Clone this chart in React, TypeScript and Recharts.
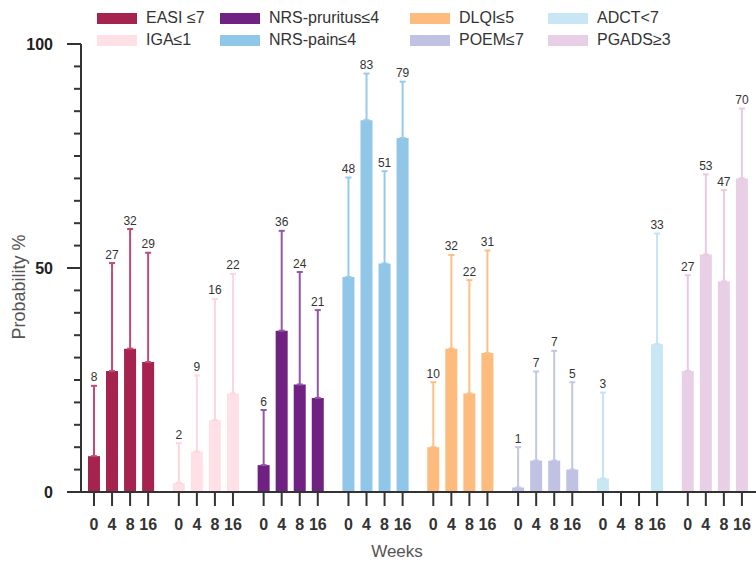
import React from 'react';
import { ComposedChart, Bar, Cell, XAxis, YAxis, Scatter, ErrorBar, LabelList, Legend } from 'recharts';

// ---- data ----
const groups = ['EASI ≤7', 'IGA≤1', 'NRS-pruritus≤4', 'NRS-pain≤4', 'DLQI≤5', 'POEM≤7', 'ADCT<7', 'PGADS≥3'];
const weeks = ['0', '4', '8', '16'];

const easi = [8, 27, 32, 29];
const easiUpper = [23.7, 51.1, 58.7, 53.4];
const iga = [2, 9, 16, 22];
const igaUpper = [10.9, 26, 43.1, 48.7];
const nrsPruritus = [6, 36, 24, 21];
const nrsPruritusUpper = [18.3, 58.3, 49.1, 40.6];
const nrsPain = [48, 83, 51, 79];
const nrsPainUpper = [70.2, 93.4, 71.6, 91.6];
const dlqi = [10, 32, 22, 31];
const dlqiUpper = [24.5, 52.9, 47.3, 53.9];
const poem = [1, 7, 7, 5];
const poemUpper = [10, 26.9, 31.5, 24.5];
const adct = [3, null, null, 33];
const adctUpper = [22.2, null, null, 57.7];
const pgads = [27, 53, 47, 70];
const pgadsUpper = [48.4, 70.9, 67.4, 85.6];

const values = [easi, iga, nrsPruritus, nrsPain, dlqi, poem, adct, pgads];
const uppers = [easiUpper, igaUpper, nrsPruritusUpper, nrsPainUpper, dlqiUpper, poemUpper, adctUpper, pgadsUpper];

const yTicks = [0, 5, 10, 15, 20, 25, 30, 35, 40, 45, 50, 55, 60, 65, 70, 75, 80, 85, 90, 95, 100];

// ---- styles ----
const colors = ['#A6234F', '#FFE0E6', '#6F2282', '#90C6E8', '#FDBB7E', '#BFC2E2', '#C9E6F5', '#E9CFE5'];
const errColors = ['#C24A73', '#FFD6DE', '#9556A8', '#97CAEA', '#FDBF86', '#C3C6E5', '#C4E3F4', '#E6CBE3'];
const GROUP_SPAN = 4.7;
const FONT = '"Liberation Sans", Arial, sans-serif';

type Row = { x: number; week: string; v: number | null; hi: number | null; gi: number };

const rows: Row[] = groups.flatMap((g, gi) =>
  weeks.map((w, wi) => ({ x: gi * GROUP_SPAN + wi, week: w, v: values[gi][wi], hi: uppers[gi][wi], gi }))
);
const xTicks = rows.map((r) => r.x);

const weekLabel = (val: number) => {
  const r = rows.find((row) => Math.abs(row.x - val) < 1e-6);
  return r ? r.week : '';
};

const YTick = (props: any) => {
  const { x, y, payload } = props;
  const major = payload.value % 50 === 0;
  return (
    <g>
      <line x1={x - (major ? 14 : 7)} x2={x} y1={y} y2={y} stroke="#333" strokeWidth={2} />
      {major && (
        <text x={x - 28} y={y} dy={5.5} textAnchor="end" fontSize={16} fontWeight="bold" fill="#222" fontFamily={FONT}>
          {payload.value}
        </text>
      )}
    </g>
  );
};

const LEG_COLS = [97, 220, 410, 548];
const LEG_ROWS = [18, 40];

const renderLegend = () => (
  <div style={{ position: 'relative', width: 756, height: 0 }}>
    {groups.map((g, i) => {
      const col = Math.floor(i / 2);
      const row = i % 2;
      return (
        <div
          key={g}
          style={{
            position: 'absolute',
            left: LEG_COLS[col],
            top: LEG_ROWS[row] - 11,
            height: 22,
            display: 'flex',
            alignItems: 'center',
            whiteSpace: 'nowrap',
          }}
        >
          <span style={{ display: 'inline-block', width: 40, height: 11, background: colors[i], marginRight: 9 }} />
          <span style={{ fontSize: 16, color: '#333', fontFamily: FONT }}>{g}</span>
        </div>
      );
    })}
  </div>
);

export default function App() {
  return (
    <div style={{ width: 756, height: 564, fontFamily: FONT, position: 'relative' }}>
      <style>{'body{margin:0}'}</style>
      <ComposedChart width={756} height={564} data={rows} margin={{ top: 44, right: 0, bottom: 0, left: 0 }}>
        <XAxis
          dataKey="x"
          type="number"
          domain={[-0.72, 36.68]}
          allowDataOverflow
          ticks={xTicks}
          interval={0}
          tickFormatter={weekLabel}
          height={72}
          tickSize={14}
          tickMargin={13}
          axisLine={{ stroke: '#333', strokeWidth: 2 }}
          tickLine={{ stroke: '#333', strokeWidth: 2 }}
          tick={{ fontSize: 16, fontWeight: 'bold', fill: '#333', fontFamily: FONT }}
          label={{
            content: () => (
              <text x={397} y={557} textAnchor="middle" fontSize={17} fill="#555" fontFamily={FONT}>
                Weeks
              </text>
            ),
          }}
        />
        <YAxis
          type="number"
          domain={[0, 100]}
          allowDataOverflow
          ticks={yTicks}
          interval={0}
          width={81}
          tickSize={0}
          tickMargin={0}
          tickLine={false}
          axisLine={{ stroke: '#333', strokeWidth: 2 }}
          tick={<YTick />}
          label={{
            content: () => (
              <text
                x={25}
                y={287}
                transform="rotate(-90 25 287)"
                textAnchor="middle"
                fontSize={18}
                fill="#555"
                fontFamily={FONT}
              >
                Probability %
              </text>
            ),
          }}
        />
        <Legend content={renderLegend} verticalAlign="top" wrapperStyle={{ top: 0, left: 0, width: 756 }} />
        <Bar dataKey="v" barSize={12} isAnimationActive={false}>
          {rows.map((r, i) => (
            <Cell key={i} fill={colors[r.gi]} />
          ))}
        </Bar>
        {groups.map((g, gi) => (
          <Scatter
            key={g}
            name={g}
            data={rows
              .filter((r) => r.gi === gi && r.v != null && r.hi != null)
              .map((r) => ({ x: r.x, y: r.hi as number, v: r.v, err: [(r.hi as number) - (r.v as number), 0] }))}
            dataKey="y"
            shape={() => <g />}
            isAnimationActive={false}
            legendType="none"
          >
            <ErrorBar dataKey="err" direction="y" width={3} stroke={errColors[gi]} strokeWidth={2} />
            <LabelList dataKey="v" position="top" offset={0} fill="#333" fontSize={12} fontFamily={FONT} />
          </Scatter>
        ))}
      </ComposedChart>
    </div>
  );
}
